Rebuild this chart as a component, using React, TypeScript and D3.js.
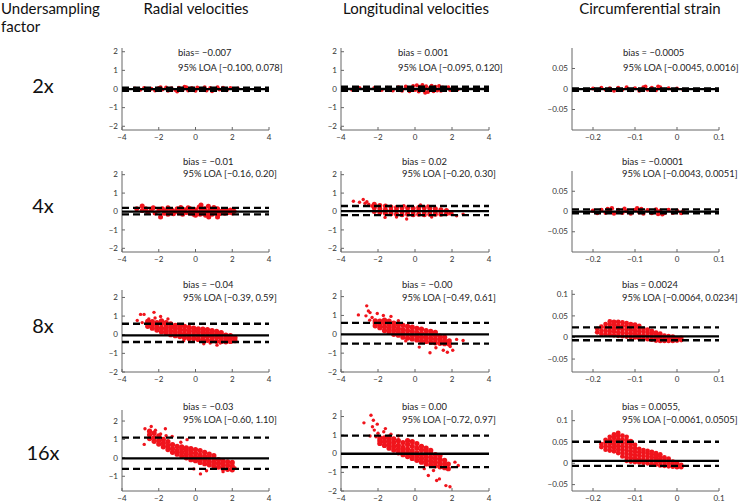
import React from 'react';
import * as d3 from 'd3';

type P = [number, number];

const rowLabels = ['2x', '4x', '8x', '16x'];
const colTitles = ['Radial velocities', 'Longitudinal velocities', 'Circumferential strain'];

// ---- data ----
const radial2x: P[] = [[-3.3,0.03],[-3.0,-0.04],[-2.8,0.05],[-2.6,-0.06],[-2.4,0.02],[-2.2,-0.08],[-2.0,0.06],[-1.8,-0.03],[-1.6,0.08],[-1.5,-0.1],[-1.3,0.04],[-1.1,-0.06],[-1.0,-0.14],[-0.9,0.07],[-0.7,-0.05],[-0.5,0.09],[-0.4,-0.08],[-0.2,0.05],[0.0,-0.1],[0.1,0.08],[0.3,-0.04],[0.5,0.1],[0.6,-0.08],[0.8,0.06],[1.0,-0.06],[1.2,0.09],[1.3,-0.03],[1.5,0.07],[1.7,-0.07],[1.9,0.05],[2.1,-0.04],[2.3,0.03],[-0.6,0.12],[0.9,-0.12],[-1.9,0.1]];
const longit2x: P[] = [[-3.8,0.02],[-3.4,-0.04],[-3.0,0.05],[-2.6,-0.05],[-2.2,0.06],[-1.8,-0.06],[-1.5,0.07],[-1.2,-0.08],[-0.9,0.1],[-0.7,-0.1],[-0.5,0.14],[-0.3,-0.12],[-0.1,0.16],[0.0,-0.05],[0.1,0.2],[0.2,-0.14],[0.3,0.08],[0.4,0.22],[0.5,-0.1],[0.6,0.15],[0.7,-0.16],[0.8,0.05],[0.9,0.18],[1.0,-0.12],[1.1,0.12],[1.2,-0.08],[1.3,0.16],[1.4,-0.1],[1.5,0.08],[1.6,-0.06],[1.8,0.1],[1.9,-0.05],[2.1,0.05],[2.3,-0.03],[0.55,-0.2],[0.25,0.12],[1.05,0.05]];
const circ2x: P[] = [[-0.2,0.001],[-0.19,-0.003],[-0.18,0.003],[-0.17,-0.002],[-0.16,0.002],[-0.15,-0.004],[-0.14,0.003],[-0.13,-0.002],[-0.12,0.004],[-0.11,-0.003],[-0.1,0.002],[-0.09,-0.004],[-0.08,0.004],[-0.07,-0.002],[-0.06,0.003],[-0.05,-0.003],[-0.04,0.004],[-0.03,-0.002],[-0.02,0.002],[-0.01,-0.003],[0.0,0.001],[0.015,-0.002],[-0.075,0.006],[-0.045,0.006]];

const radial4x: P[] = [[-3.2,0.15],[-2.9,0.3],[-2.9,0.05],[-2.7,0.15],[-2.6,-0.05],[-2.4,0.1],[-2.3,0.2],[-2.2,-0.08],[-2.0,0.05],[-1.9,-0.3],[-1.8,0.15],[-1.7,-0.1],[-1.6,0.05],[-1.5,0.2],[-1.4,-0.05],[-1.3,0.1],[-1.2,-0.12],[-1.1,0.0],[-1.0,0.15],[-0.9,-0.08],[-0.8,0.05],[-0.7,-0.15],[-0.6,0.1],[-0.5,-0.05],[-0.4,0.2],[-0.3,-0.1],[-0.2,0.05],[-0.1,-0.15],[0.0,0.1],[0.1,-0.05],[0.2,0.25],[0.25,-0.15],[0.3,0.05],[0.4,-0.1],[0.5,0.15],[0.55,-0.2],[0.6,0.0],[0.7,0.28],[0.75,-0.1],[0.8,0.1],[0.9,-0.15],[1.0,0.05],[1.1,-0.08],[1.2,0.15],[1.3,-0.12],[1.4,0.0],[1.5,0.1],[1.6,-0.1],[1.7,0.05],[1.8,-0.05],[1.9,0.08],[2.0,-0.08],[2.1,0.02],[0.72,-0.3],[1.2,-0.3],[-0.8,0.22],[0.0,-0.2],[-1.5,-0.15],[0.3,0.35],[1.0,0.22],[-0.3,0.15]];
const longit4x: P[] = [[-2.2,0.0],[-2.2,0.2],[-2.2,0.4],[-1.9,-0.05],[-1.9,0.15],[-1.9,0.32],[-1.6,-0.1],[-1.6,0.1],[-1.6,0.3],[-1.3,-0.12],[-1.3,0.05],[-1.3,0.25],[-1.0,-0.15],[-1.0,0.05],[-1.0,0.22],[-0.7,-0.18],[-0.7,0.0],[-0.7,0.2],[-0.4,-0.15],[-0.4,0.02],[-0.4,0.2],[-0.1,-0.18],[-0.1,0.0],[-0.1,0.18],[0.2,-0.15],[0.2,0.05],[0.2,0.22],[0.5,-0.18],[0.5,0.0],[0.5,0.2],[0.8,-0.15],[0.8,0.02],[0.8,0.18],[1.1,-0.15],[1.1,0.0],[1.1,0.15],[1.4,-0.15],[1.4,0.0],[1.4,0.1],[1.7,-0.12],[1.7,0.05],[1.95,-0.1]];
const longit4xOut: P[] = [[-3.33,0.56],[-2.8,0.65],[-2.6,0.53],[-3.0,0.5],[-2.5,0.39],[-2.34,0.3],[-2.7,0.45],[-1.62,-0.32],[-0.45,-0.41],[0.9,-0.3],[2.25,-0.23],[2.6,-0.14],[-1.0,-0.3],[0.3,0.35],[-0.6,0.32],[0.7,0.3]];
const circ4x: P[] = [[-0.2,0.002],[-0.19,-0.004],[-0.18,0.004],[-0.17,-0.003],[-0.165,0.006],[-0.16,0.0],[-0.15,-0.005],[-0.14,0.004],[-0.13,-0.003],[-0.125,0.007],[-0.12,0.001],[-0.11,-0.005],[-0.1,0.004],[-0.09,-0.002],[-0.085,0.006],[-0.08,-0.005],[-0.07,0.003],[-0.06,-0.004],[-0.05,0.005],[-0.045,-0.006],[-0.04,0.002],[-0.03,-0.004],[-0.02,0.004],[-0.01,-0.003],[0.0,0.002],[0.01,-0.004],[0.015,0.001],[-0.155,0.008],[-0.095,0.008],[-0.035,-0.007]];

const radial8x: P[] = [[-2.6,0.45],[-2.6,0.6],[-2.6,0.72],[-2.35,0.35],[-2.35,0.55],[-2.35,0.7],[-2.1,0.25],[-2.1,0.45],[-2.1,0.65],[-1.85,0.15],[-1.85,0.35],[-1.85,0.6],[-1.85,0.75],[-1.6,0.1],[-1.6,0.3],[-1.6,0.5],[-1.6,0.65],[-1.35,0.0],[-1.35,0.2],[-1.35,0.4],[-1.35,0.58],[-1.1,-0.05],[-1.1,0.15],[-1.1,0.35],[-1.1,0.5],[-0.85,-0.1],[-0.85,0.1],[-0.85,0.3],[-0.85,0.48],[-0.6,-0.15],[-0.6,0.05],[-0.6,0.25],[-0.6,0.45],[-0.35,-0.2],[-0.35,0.0],[-0.35,0.2],[-0.35,0.4],[-0.1,-0.2],[-0.1,0.0],[-0.1,0.18],[-0.1,0.35],[0.15,-0.25],[0.15,-0.05],[0.15,0.15],[0.15,0.32],[0.4,-0.28],[0.4,-0.08],[0.4,0.12],[0.4,0.3],[0.65,-0.3],[0.65,-0.1],[0.65,0.1],[0.65,0.28],[0.9,-0.32],[0.9,-0.12],[0.9,0.05],[0.9,0.22],[1.15,-0.35],[1.15,-0.15],[1.15,0.02],[1.15,0.18],[1.4,-0.36],[1.4,-0.18],[1.4,0.0],[1.4,0.12],[1.65,-0.38],[1.65,-0.2],[1.65,-0.02],[1.9,-0.36],[1.9,-0.2],[1.9,-0.05],[2.15,-0.32],[2.15,-0.15]];
const radial8xOut: P[] = [[-3.17,0.77],[-2.99,1.09],[-2.8,1.09],[-2.26,1.2],[-2.54,0.85],[-1.9,0.98],[-2.2,0.9],[0.45,-0.49],[1.17,-0.56],[1.35,-0.44],[-0.64,-0.32],[0.8,-0.45],[-1.5,0.85],[-2.9,0.65]];
const longit8x: P[] = [[-2.15,0.45],[-2.15,0.6],[-2.15,0.72],[-1.9,0.35],[-1.9,0.5],[-1.9,0.7],[-1.65,0.2],[-1.65,0.4],[-1.65,0.6],[-1.65,0.75],[-1.4,0.1],[-1.4,0.3],[-1.4,0.5],[-1.4,0.7],[-1.15,0.0],[-1.15,0.2],[-1.15,0.4],[-1.15,0.6],[-0.9,-0.05],[-0.9,0.12],[-0.9,0.3],[-0.9,0.5],[-0.65,-0.15],[-0.65,0.05],[-0.65,0.25],[-0.65,0.48],[-0.4,-0.2],[-0.4,0.0],[-0.4,0.2],[-0.4,0.42],[-0.15,-0.25],[-0.15,-0.05],[-0.15,0.15],[-0.15,0.38],[0.1,-0.3],[0.1,-0.1],[0.1,0.1],[0.1,0.32],[0.35,-0.35],[0.35,-0.15],[0.35,0.05],[0.35,0.28],[0.6,-0.38],[0.6,-0.18],[0.6,0.0],[0.6,0.2],[0.85,-0.42],[0.85,-0.22],[0.85,-0.02],[0.85,0.15],[1.1,-0.45],[1.1,-0.25],[1.1,-0.05],[1.1,0.1],[1.35,-0.48],[1.35,-0.3],[1.35,-0.1],[1.6,-0.5],[1.6,-0.35],[1.6,-0.15],[1.85,-0.52],[1.85,-0.35]];
const longit8xOut: P[] = [[-3.06,1.03],[-2.61,1.51],[-2.52,1.24],[-2.43,1.15],[-2.04,1.1],[-1.71,1.0],[-2.65,0.98],[-2.32,0.89],[-2.45,0.75],[-1.3,0.95],[-0.9,0.72],[0.23,-0.68],[0.81,-0.98],[1.13,-0.71],[1.53,-0.85],[2.04,-0.85],[2.25,-0.27],[2.6,-0.33],[1.75,-0.95],[-0.5,-0.35],[1.9,-0.65]];
const circ8x: P[] = [[-0.19,0.012],[-0.19,0.02],[-0.18,0.008],[-0.18,0.016],[-0.18,0.025],[-0.17,0.007],[-0.17,0.015],[-0.17,0.023],[-0.17,0.031],[-0.16,0.006],[-0.16,0.014],[-0.16,0.022],[-0.16,0.03],[-0.16,0.037],[-0.15,0.005],[-0.15,0.013],[-0.15,0.021],[-0.15,0.029],[-0.15,0.036],[-0.14,0.004],[-0.14,0.012],[-0.14,0.02],[-0.14,0.028],[-0.14,0.036],[-0.13,0.003],[-0.13,0.011],[-0.13,0.019],[-0.13,0.027],[-0.13,0.035],[-0.12,0.002],[-0.12,0.01],[-0.12,0.018],[-0.12,0.026],[-0.12,0.033],[-0.11,0.001],[-0.11,0.009],[-0.11,0.017],[-0.11,0.025],[-0.11,0.031],[-0.1,0.0],[-0.1,0.008],[-0.1,0.016],[-0.1,0.024],[-0.1,0.03],[-0.09,-0.002],[-0.09,0.006],[-0.09,0.014],[-0.09,0.022],[-0.09,0.027],[-0.08,-0.003],[-0.08,0.005],[-0.08,0.013],[-0.08,0.02],[-0.07,-0.004],[-0.07,0.004],[-0.07,0.011],[-0.07,0.018],[-0.06,-0.005],[-0.06,0.002],[-0.06,0.009],[-0.06,0.015],[-0.05,-0.007],[-0.05,0.0],[-0.05,0.007],[-0.05,0.011],[-0.04,-0.008],[-0.04,-0.001],[-0.04,0.005],[-0.04,0.009],[-0.03,-0.008],[-0.03,-0.002],[-0.03,0.004],[-0.02,-0.008],[-0.02,-0.002],[-0.02,0.003],[-0.01,-0.008],[-0.01,-0.003],[-0.01,0.002],[0.0,-0.007],[0.0,-0.002],[0.01,-0.006],[0.01,-0.001]];

const radial16x: P[] = [[-2.5,1.05],[-2.5,1.25],[-2.5,1.45],[-2.25,0.9],[-2.25,1.1],[-2.25,1.35],[-2.0,0.75],[-2.0,0.95],[-2.0,1.2],[-1.75,0.6],[-1.75,0.8],[-1.75,1.0],[-1.5,0.45],[-1.5,0.65],[-1.5,0.88],[-1.25,0.3],[-1.25,0.5],[-1.25,0.72],[-1.0,0.2],[-1.0,0.4],[-1.0,0.62],[-0.75,0.1],[-0.75,0.3],[-0.75,0.5],[-0.75,0.6],[-0.5,0.0],[-0.5,0.2],[-0.5,0.4],[-0.5,0.55],[-0.25,-0.1],[-0.25,0.1],[-0.25,0.3],[-0.25,0.5],[0.0,-0.15],[0.0,0.05],[0.0,0.25],[0.0,0.45],[0.25,-0.25],[0.25,-0.05],[0.25,0.15],[0.25,0.4],[0.5,-0.32],[0.5,-0.12],[0.5,0.08],[0.5,0.3],[0.75,-0.38],[0.75,-0.2],[0.75,0.0],[0.75,0.2],[1.0,-0.45],[1.0,-0.25],[1.0,-0.05],[1.0,0.12],[1.25,-0.5],[1.25,-0.3],[1.25,-0.1],[1.5,-0.58],[1.5,-0.38],[1.5,-0.18],[1.75,-0.62],[1.75,-0.42],[1.75,-0.22],[2.0,-0.65],[2.0,-0.45],[2.0,-0.25]];
const radial16xOut: P[] = [[-2.75,1.58],[-2.41,1.7],[-2.79,0.73],[-2.18,1.5],[-1.64,1.58],[-1.27,1.17],[-0.46,0.99],[-1.9,1.3],[0.27,-0.87],[-0.09,-0.6],[0.6,-0.7],[1.5,-0.75],[2.15,-0.55],[-0.8,0.85],[-1.6,1.2]];
const longit16x: P[] = [[-1.9,0.55],[-1.9,0.7],[-1.9,0.85],[-1.65,0.45],[-1.65,0.65],[-1.65,0.85],[-1.4,0.3],[-1.4,0.5],[-1.4,0.7],[-1.4,0.9],[-1.15,0.2],[-1.15,0.4],[-1.15,0.6],[-1.15,0.8],[-0.9,0.05],[-0.9,0.25],[-0.9,0.45],[-0.9,0.7],[-0.65,-0.05],[-0.65,0.15],[-0.65,0.35],[-0.65,0.6],[-0.4,-0.15],[-0.4,0.05],[-0.4,0.25],[-0.4,0.5],[-0.4,0.7],[-0.15,-0.25],[-0.15,-0.05],[-0.15,0.15],[-0.15,0.4],[-0.15,0.65],[0.1,-0.35],[0.1,-0.15],[0.1,0.05],[0.1,0.3],[0.1,0.55],[0.35,-0.45],[0.35,-0.25],[0.35,-0.05],[0.35,0.2],[0.35,0.4],[0.6,-0.55],[0.6,-0.35],[0.6,-0.15],[0.6,0.1],[0.6,0.3],[0.85,-0.6],[0.85,-0.4],[0.85,-0.2],[0.85,0.0],[0.85,0.18],[1.1,-0.65],[1.1,-0.45],[1.1,-0.25],[1.1,-0.05],[1.35,-0.7],[1.35,-0.5],[1.35,-0.3],[1.35,-0.1],[1.6,-0.75],[1.6,-0.55],[1.6,-0.35],[1.8,-0.8],[1.8,-0.55]];
const longit16xOut: P[] = [[-2.76,1.66],[-2.38,2.07],[-2.25,1.8],[-2.04,1.59],[-2.2,1.27],[-2.11,0.91],[-2.43,0.95],[-1.69,1.18],[-1.6,1.35],[-2.0,1.1],[-1.3,1.05],[-0.9,0.95],[1.32,-1.35],[1.17,-1.44],[1.67,-1.71],[1.89,-1.77],[2.16,-0.45],[2.34,-0.63],[0.72,-1.17],[0.5,-0.8],[1.0,-0.9],[-2.3,1.45]];
const circ16x: P[] = [[-0.18,0.038],[-0.18,0.045],[-0.17,0.032],[-0.17,0.04],[-0.17,0.048],[-0.17,0.055],[-0.16,0.03],[-0.16,0.038],[-0.16,0.046],[-0.16,0.054],[-0.16,0.062],[-0.15,0.028],[-0.15,0.036],[-0.15,0.044],[-0.15,0.052],[-0.15,0.06],[-0.15,0.068],[-0.14,0.024],[-0.14,0.032],[-0.14,0.04],[-0.14,0.048],[-0.14,0.056],[-0.14,0.064],[-0.14,0.071],[-0.13,0.016],[-0.13,0.024],[-0.13,0.032],[-0.13,0.04],[-0.13,0.048],[-0.13,0.056],[-0.13,0.065],[-0.12,0.006],[-0.12,0.014],[-0.12,0.022],[-0.12,0.03],[-0.12,0.038],[-0.12,0.046],[-0.12,0.054],[-0.12,0.062],[-0.11,0.004],[-0.11,0.012],[-0.11,0.02],[-0.11,0.028],[-0.11,0.036],[-0.11,0.044],[-0.11,0.052],[-0.1,0.003],[-0.1,0.011],[-0.1,0.019],[-0.1,0.027],[-0.1,0.035],[-0.1,0.043],[-0.09,0.002],[-0.09,0.01],[-0.09,0.018],[-0.09,0.026],[-0.09,0.034],[-0.08,0.001],[-0.08,0.009],[-0.08,0.017],[-0.08,0.025],[-0.08,0.031],[-0.07,0.0],[-0.07,0.008],[-0.07,0.016],[-0.07,0.023],[-0.07,0.029],[-0.06,-0.002],[-0.06,0.006],[-0.06,0.014],[-0.06,0.021],[-0.06,0.027],[-0.05,-0.003],[-0.05,0.005],[-0.05,0.012],[-0.05,0.019],[-0.05,0.024],[-0.04,-0.005],[-0.04,0.003],[-0.04,0.01],[-0.04,0.016],[-0.04,0.021],[-0.03,-0.006],[-0.03,0.001],[-0.03,0.008],[-0.03,0.014],[-0.02,-0.007],[-0.02,0.0],[-0.02,0.006],[-0.02,0.011],[-0.01,-0.008],[-0.01,-0.002],[-0.01,0.004],[0.0,-0.009],[0.0,-0.003],[0.0,0.002],[0.01,-0.009],[0.01,-0.004]];

const none: P[] = [];

// dense cores and sparse outliers
const panelCore: P[][][] = [
  [radial2x, longit2x, circ2x],
  [radial4x, longit4x, circ4x],
  [radial8x, longit8x, circ8x],
  [radial16x, longit16x, circ16x],
];
const panelSparse: P[][][] = [
  [none, none, none],
  [none, longit4xOut, none],
  [radial8xOut, longit8xOut, none],
  [radial16xOut, longit16xOut, none],
];

const biasValues = [[-0.007, 0.001, -0.0005], [-0.01, 0.02, -0.0001], [-0.04, -0.0, 0.0024], [-0.03, 0.0, 0.0055]];
const loaLow = [[-0.1, -0.095, -0.0045], [-0.16, -0.2, -0.0043], [-0.39, -0.49, -0.0064], [-0.6, -0.72, -0.0061]];
const loaHigh = [[0.078, 0.12, 0.0016], [0.2, 0.3, 0.0051], [0.59, 0.61, 0.0234], [1.1, 0.97, 0.0505]];
const biasLabels = [
  ['bias= −0.007', 'bias = 0.001', 'bias = −0.0005'],
  ['bias = −0.01', 'bias = 0.02', 'bias = −0.0001'],
  ['bias = −0.04', 'bias = −0.00', 'bias = 0.0024'],
  ['bias = −0.03', 'bias = 0.00', 'bias = 0.0055,'],
];
const loaLabels = [
  ['95% LOA [−0.100, 0.078]', '95% LOA [−0.095, 0.120]', '95% LOA [−0.0045, 0.0016]'],
  ['95% LOA [−0.16, 0.20]', '95% LOA [−0.20, 0.30]', '95% LOA [−0.0043, 0.0051]'],
  ['95% LOA [−0.39, 0.59]', '95% LOA [−0.49, 0.61]', '95% LOA [−0.0064, 0.0234]'],
  ['95% LOA [−0.60, 1.10]', '95% LOA [−0.72, 0.97]', '95% LOA [−0.0061, 0.0505]'],
];

const velXDomain: [number, number] = [-4, 4];
const strainXDomain: [number, number] = [-0.25, 0.1];
const velXTicks = [-4, -2, 0, 2, 4];
const strainXTicks = [-0.2, -0.1, 0, 0.1];
const yDomains: [number, number][][] = [
  [[-2.2, 2.2], [-2.2, 2.2], [-0.1, 0.1]],
  [[-2.2, 2.2], [-2.2, 2.2], [-0.1, 0.1]],
  [[-2, 2.4], [-2, 2.35], [-0.08, 0.11]],
  [[-1.8, 2.6], [-2, 2.35], [-0.065, 0.125]],
];
const yTicks: number[][][] = [
  [[-2, -1, 0, 1, 2], [-2, -1, 0, 1, 2], [-0.05, 0, 0.05]],
  [[-2, -1, 0, 1, 2], [-2, -1, 0, 1, 2], [-0.05, 0, 0.05]],
  [[-2, -1, 0, 1, 2], [-2, -1, 0, 1, 2], [-0.05, 0, 0.05, 0.1]],
  [[-1, 0, 1, 2], [-2, -1, 0, 1, 2], [-0.05, 0, 0.05, 0.1]],
];

// ---- layout ----
const W = 740, H = 503;
const colX = [[122, 269], [341, 489], [572, 719]];
const rowY = [[48, 130], [171, 252], [290, 372], [410, 491]];
const textX = [[178, 398, 623], [183, 402, 622], [183, 402, 622], [183, 402, 622]];
const textY = [[56, 71], [164.5, 176.5], [288, 300.5], [410, 422.5]];
const rowLabelY = [93, 213, 333, 460];
const coreR = [[2.0, 2.0, 2.0], [2.5, 2.5, 2.2], [2.6, 2.6, 2.4], [2.6, 2.6, 2.4]];
const FONT = 'Lato, "Open Sans", sans-serif';
const RED = '#f0141c';

const fmt = (v: number) => {
  const s = String(Math.round(v * 1000) / 1000);
  return s.replace('-', '−');
};

function Panel({ r, c }: { r: number; c: number }) {
  const [x0, x1] = colX[c];
  const [yTop, yBot] = rowY[r];
  const isStrain = c === 2;
  const x = d3.scaleLinear().domain(isStrain ? strainXDomain : velXDomain).range([x0, x1]);
  const y = d3.scaleLinear().domain(yDomains[r][c]).range([yBot, yTop]);
  const xt = isStrain ? strainXTicks : velXTicks;
  const yt = yTicks[r][c];
  const lw = 2.3;
  return (
    <g>
      <line x1={x0} x2={x0} y1={yTop} y2={yBot} stroke="#666" strokeWidth={1} />
      <line x1={x0} x2={x1} y1={yBot} y2={yBot} stroke="#666" strokeWidth={1} />
      {yt.map((t) => (
        <g key={'y' + t}>
          <line x1={x0} x2={x0 + 3} y1={y(t)} y2={y(t)} stroke="#666" strokeWidth={1} />
          <text x={x0 - 4} y={y(t)} dy="0.33em" textAnchor="end" fontSize={8} fill="#333" fontFamily={FONT}>{fmt(t)}</text>
        </g>
      ))}
      {xt.map((t) => (
        <g key={'x' + t}>
          <line x1={x(t)} x2={x(t)} y1={yBot} y2={yBot - 3} stroke="#666" strokeWidth={1} />
          <text x={x(t)} y={yBot + 10} textAnchor="middle" fontSize={8} fill="#333" fontFamily={FONT}>{fmt(t)}</text>
        </g>
      ))}
      {panelCore[r][c].map((p, i) => (
        <circle key={'c' + i} cx={x(p[0])} cy={y(p[1])} r={coreR[r][c]} fill={RED} />
      ))}
      {panelSparse[r][c].map((p, i) => (
        <circle key={'s' + i} cx={x(p[0])} cy={y(p[1])} r={1.7} fill={RED} />
      ))}
      <line x1={x0} x2={x1} y1={y(biasValues[r][c])} y2={y(biasValues[r][c])} stroke="#000" strokeWidth={lw} />
      <line x1={x0} x2={x1} y1={y(loaLow[r][c])} y2={y(loaLow[r][c])} stroke="#000" strokeWidth={lw} strokeDasharray="7,4" />
      <line x1={x0} x2={x1} y1={y(loaHigh[r][c])} y2={y(loaHigh[r][c])} stroke="#000" strokeWidth={lw} strokeDasharray="7,4" />
      <text x={textX[r][c]} y={textY[r][0]} fontSize={9.4} fill="#222" fontFamily={FONT}>{biasLabels[r][c]}</text>
      <text x={textX[r][c]} y={textY[r][1]} fontSize={9.4} fill="#222" fontFamily={FONT}>{loaLabels[r][c]}</text>
    </g>
  );
}

export default function App() {
  const titleCenters = [196, 416, 650];
  return (
    <svg width={W} height={H} style={{ position: 'absolute', left: 0, top: 0, background: '#fff' }}>
      <rect width={W} height={H} fill="#fff" />
      <text x={1} y={14} fontSize={15} fill="#111" fontFamily={FONT}>Undersampling</text>
      <text x={1} y={32} fontSize={15} fill="#111" fontFamily={FONT}>factor</text>
      {colTitles.map((t, i) => (
        <text key={t} x={titleCenters[i]} y={14} fontSize={15} textAnchor="middle" fill="#111" fontFamily={FONT}>{t}</text>
      ))}
      {rowLabels.map((t, i) => (
        <text key={t} x={43} y={rowLabelY[i]} fontSize={20} textAnchor="middle" fill="#111" fontFamily={FONT}>{t}</text>
      ))}
      {rowLabels.map((_, r) => [0, 1, 2].map((c) => <Panel key={r + '-' + c} r={r} c={c} />))}
    </svg>
  );
}
